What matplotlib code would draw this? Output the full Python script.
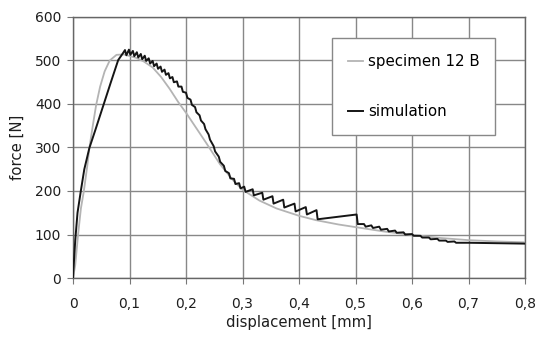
import matplotlib
matplotlib.use("Agg")
import matplotlib.pyplot as plt

plt.rcParams['font.family'] = ['DejaVu Sans']

# ---- data ----
spec_x = [0.0, 0.004, 0.009, 0.014, 0.019, 0.025, 0.029, 0.035, 0.041, 0.048, 0.056,
          0.065, 0.077, 0.090, 0.112, 0.125, 0.141, 0.156, 0.171, 0.186, 0.201, 0.218,
          0.236, 0.260, 0.283, 0.300, 0.330, 0.360, 0.400, 0.430, 0.470, 0.500, 0.550,
          0.600, 0.650, 0.700, 0.750, 0.800]
spec_y = [0, 30, 100, 160, 198, 255, 299, 350, 398, 440, 475,
          500, 513, 514, 506, 498, 484, 462, 435, 405, 378, 345,
          310, 262, 225, 203, 178, 160, 143, 133, 123, 117, 107,
          99, 92, 87, 84, 82]

sim_rise_x = [0.0, 0.002, 0.004, 0.008, 0.0136, 0.020, 0.029, 0.040, 0.054, 0.067, 0.080, 0.088]
sim_rise_y = [0, 45, 87, 150, 198, 250, 299, 342, 398, 450, 501, 516]

# saw-teeth after the peak: position, tooth top, tooth bottom
sim_tooth_x = [0.092, 0.099, 0.106, 0.113, 0.120, 0.127, 0.134, 0.141, 0.148, 0.155,
               0.162, 0.169, 0.176, 0.184, 0.192, 0.200, 0.208, 0.216, 0.224, 0.232,
               0.240, 0.249, 0.258, 0.267, 0.276, 0.285, 0.294, 0.303,
               0.318, 0.335, 0.353, 0.372, 0.392, 0.412, 0.431, 0.502]
sim_tooth_top = [524, 525, 522, 519, 515, 511, 505, 499, 493, 486,
                 479, 471, 462, 452, 440, 426, 410, 393, 374, 354,
                 330, 303, 279, 258, 241, 228, 218, 210,
                 204, 196, 188, 180, 171, 163, 156, 146]
sim_tooth_bot = [512, 513, 510, 507, 503, 499, 493, 487, 481, 474,
                 467, 459, 450, 440, 428, 414, 398, 381, 362, 342,
                 318, 291, 267, 246, 229, 216, 206, 198,
                 190, 180, 171, 162, 153, 146, 135, 124]
sim_tooth_dx = [0.0025] * 28 + [0.002] * 8

# small steps in the tail
sim_step_x = [0.515, 0.528, 0.542, 0.556, 0.570, 0.585, 0.600, 0.615, 0.630, 0.645, 0.660, 0.675]
sim_step_top = [124, 121, 118, 113, 109, 105, 101, 97, 93, 90, 86, 84]
sim_step_bot = [118, 115, 111, 107, 104, 100, 97, 93, 89, 86, 83, 81]

sim_end_x = [0.700, 0.750, 0.800]
sim_end_y = [81, 80, 79]

x_ticks = [0, 0.1, 0.2, 0.3, 0.4, 0.5, 0.6, 0.7, 0.8]
x_ticklabels = ["0", "0,1", "0,2", "0,3", "0,4", "0,5", "0,6", "0,7", "0,8"]
y_ticks = [0, 100, 200, 300, 400, 500, 600]

# ---- build simulation path ----
sim_x = list(sim_rise_x)
sim_y = list(sim_rise_y)
for x, t, b, dx in zip(sim_tooth_x, sim_tooth_top, sim_tooth_bot, sim_tooth_dx):
    sim_x += [x, x + dx]
    sim_y += [t, b]
for x, t, b in zip(sim_step_x, sim_step_top, sim_step_bot):
    sim_x += [x, x + 0.003]
    sim_y += [t, b]
sim_x += sim_end_x
sim_y += sim_end_y

# ---- figure ----
fig = plt.figure(figsize=(5.39, 3.38), dpi=100)
ax = fig.add_axes([73/539, 1 - 278/338, 452/539, 261/338])

ax.plot(spec_x, spec_y, color="#b4b4b4", lw=1.3, label="specimen 12 B", zorder=3)
ax.plot(sim_x, sim_y, color="#151515", lw=1.4, label="simulation", zorder=4)

ax.set_xlim(0, 0.8)
ax.set_ylim(0, 600)
ax.set_xticks(x_ticks)
ax.set_xticklabels(x_ticklabels)
ax.set_yticks(y_ticks)
ax.grid(True, color="#888888", lw=1.0, zorder=0)
ax.set_axisbelow(True)
for s in ax.spines.values():
    s.set_color("#666666")
    s.set_linewidth(1.0)
ax.tick_params(direction="out", length=4.5, color="#777777", labelsize=10,
               labelcolor="#1e1e1e")
ax.tick_params(axis="x", pad=9)
ax.tick_params(axis="y", pad=4)
ax.set_xlabel("displacement [mm]", fontsize=10.7, color="#1e1e1e", labelpad=3)
ax.set_ylabel("force [N]", fontsize=10.7, color="#1e1e1e", labelpad=7)

leg = ax.legend(loc="upper left", bbox_to_anchor=(0.573, 0.548, 0.361, 0.372),
                mode="expand", fontsize=10.8, handlelength=1.0, handletextpad=0.3,
                labelspacing=2.3, borderpad=1.1, fancybox=False, framealpha=1,
                edgecolor="#888888", borderaxespad=0)
leg.get_frame().set_linewidth(1.0)

fig.savefig("out.png", dpi=100)
